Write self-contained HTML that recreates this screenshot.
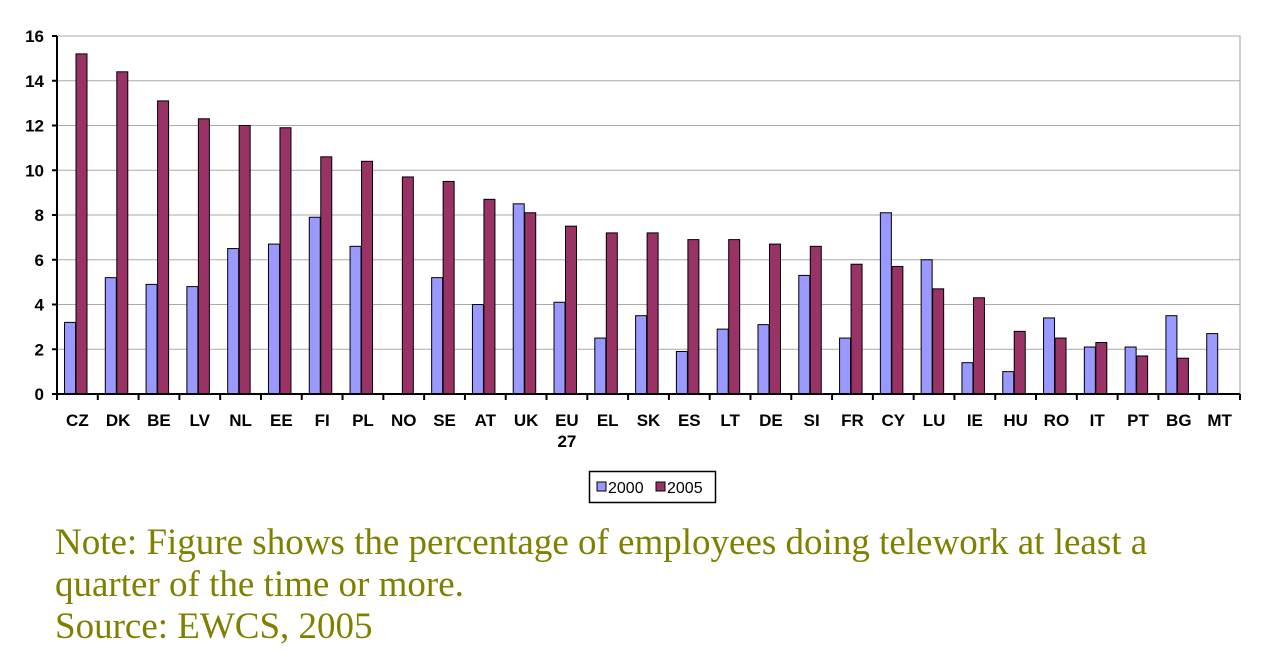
<!DOCTYPE html>
<html><head><meta charset="utf-8"><style>
body{margin:0;background:#fff;width:1277px;height:657px;overflow:hidden}
.note{position:absolute;left:55px;font-family:"Liberation Serif",serif;font-size:37px;color:#808000;white-space:nowrap}
</style></head><body>
<svg id="c" width="1277" height="520" style="position:absolute;left:0;top:0" xmlns="http://www.w3.org/2000/svg"></svg>
<div class="note" style="top:521px">Note: Figure shows the percentage of employees doing telework at least a</div>
<div class="note" style="top:563px">quarter of the time or more.</div>
<div class="note" style="top:605px">Source: EWCS, 2005</div>
<script>
var d=[["CZ",3.2,15.2],["DK",5.2,14.4],["BE",4.9,13.1],["LV",4.8,12.3],["NL",6.5,12.0],["EE",6.7,11.9],["FI",7.9,10.6],["PL",6.6,10.4],["NO",null,9.7],["SE",5.2,9.5],["AT",4.0,8.7],["UK",8.5,8.1],["EU",4.1,7.5],["EL",2.5,7.2],["SK",3.5,7.2],["ES",1.9,6.9],["LT",2.9,6.9],["DE",3.1,6.7],["SI",5.3,6.6],["FR",2.5,5.8],["CY",8.1,5.7],["LU",6.0,4.7],["IE",1.4,4.3],["HU",1.0,2.8],["RO",3.4,2.5],["IT",2.1,2.3],["PT",2.1,1.7],["BG",3.5,1.6],["MT",2.7,null]];
var x0=57,x1=1240,y0=394,yt=36,k=(y0-yt)/16,w=(x1-x0)/29,s="";
var F='font-family="Liberation Sans,sans-serif" font-weight="bold"';
s+='<rect x="'+x0+'" y="'+yt+'" width="'+(x1-x0)+'" height="'+(y0-yt)+'" fill="none" stroke="#999" stroke-width="1"/>';
for(var v=0;v<=16;v+=2){var y=y0-v*k;s+='<line x1="'+x0+'" x2="'+x1+'" y1="'+y+'" y2="'+y+'" stroke="#aaa"/>';s+='<line x1="'+(x0-5)+'" x2="'+x0+'" y1="'+y+'" y2="'+y+'" stroke="#000" stroke-width="2"/>';s+='<text x="44" y="'+(y+6)+'" text-anchor="end" font-size="17" '+F+'>'+v+'</text>';}
for(var i=0;i<29;i++){var cx=x0+i*w;s+='<line x1="'+cx+'" x2="'+cx+'" y1="'+y0+'" y2="'+(y0+6)+'" stroke="#000" stroke-width="2"/>';
 if(d[i][1]!=null){var h=d[i][1]*k;s+='<rect x="'+(cx+7.5)+'" y="'+(y0-h)+'" width="11" height="'+h+'" fill="#9999ff" stroke="#000" stroke-width="1"/>';}
 if(d[i][2]!=null){var h=d[i][2]*k;s+='<rect x="'+(cx+19)+'" y="'+(y0-h)+'" width="11" height="'+h+'" fill="#993366" stroke="#000" stroke-width="1"/>';}
 s+='<text x="'+(cx+w/2)+'" y="426" text-anchor="middle" font-size="17" '+F+'>'+d[i][0]+'</text>';
 if(d[i][0]=="EU")s+='<text x="'+(cx+w/2)+'" y="447" text-anchor="middle" font-size="17" '+F+'>27</text>';}
s+='<line x1="'+(x1)+'" x2="'+x1+'" y1="'+y0+'" y2="'+(y0+6)+'" stroke="#000" stroke-width="2"/>';
s+='<line x1="'+x0+'" x2="'+x0+'" y1="'+yt+'" y2="'+y0+'" stroke="#000" stroke-width="2"/>';
s+='<line x1="'+x0+'" x2="'+x1+'" y1="'+y0+'" y2="'+y0+'" stroke="#000" stroke-width="2"/>';
s+='<rect x="589.5" y="471.5" width="126" height="31" fill="#fff" stroke="#000" stroke-width="1.5"/>';
s+='<rect x="597" y="482" width="9" height="9" fill="#9999ff" stroke="#000"/><text x="608" y="493" font-family="Liberation Sans,sans-serif" font-size="16">2000</text>';
s+='<rect x="656" y="482" width="9" height="9" fill="#993366" stroke="#000"/><text x="667" y="493" font-family="Liberation Sans,sans-serif" font-size="16">2005</text>';
document.getElementById("c").innerHTML=s;
</script>
</body></html>
